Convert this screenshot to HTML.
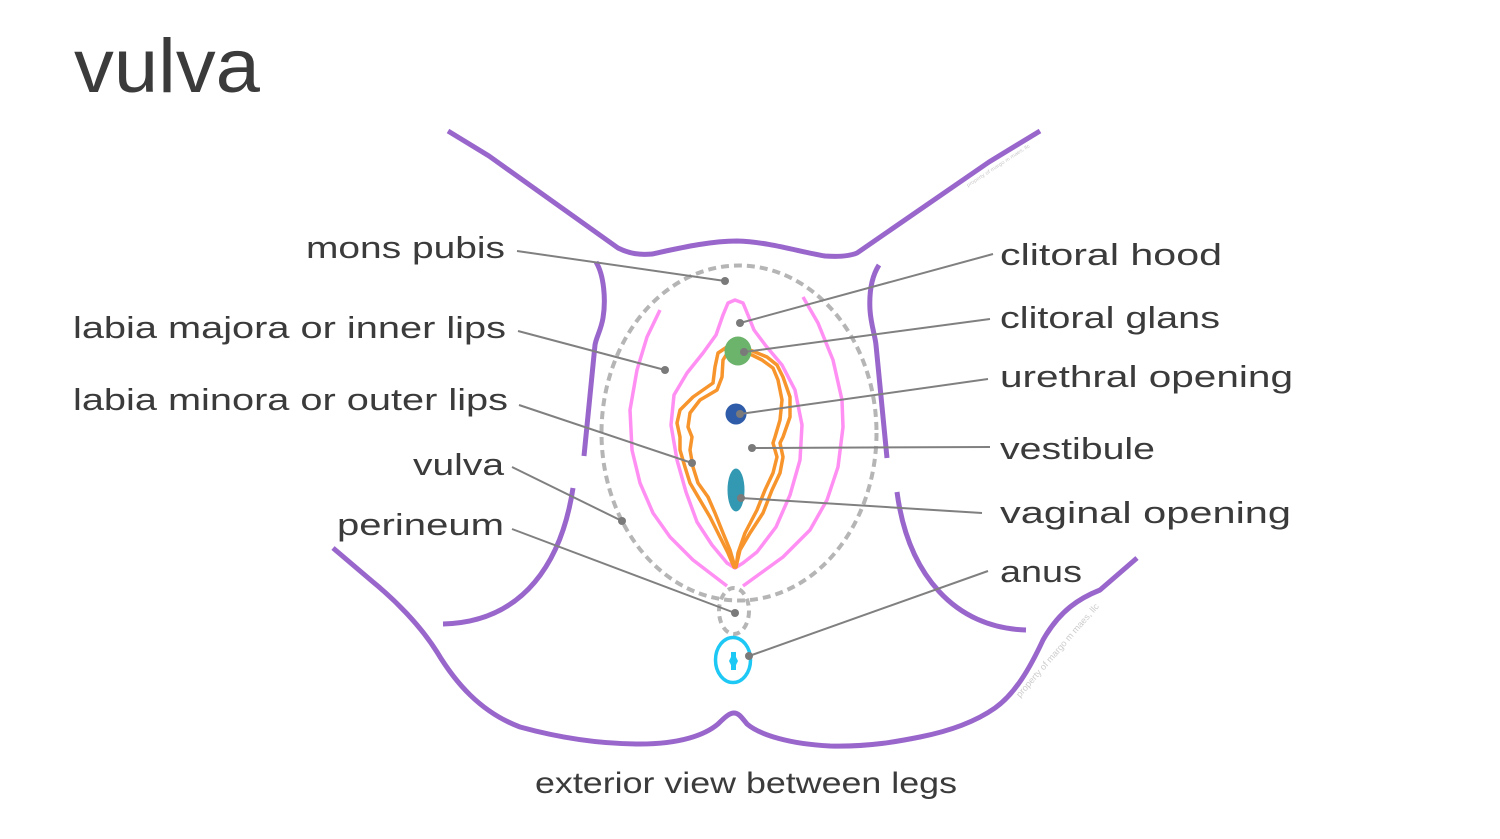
<!DOCTYPE html>
<html>
<head>
<meta charset="utf-8">
<style>
  html,body{margin:0;padding:0;background:#fff;}
  body{width:1500px;height:839px;overflow:hidden;}
  svg{display:block;}
  text{font-family:"Liberation Sans", sans-serif; fill:#3b3b3b;}
</style>
</head>
<body>
<svg width="1500" height="839" viewBox="0 0 1500 839" xmlns="http://www.w3.org/2000/svg">
  <rect width="1500" height="839" fill="#fff"/>

  <!-- Title -->
  <text x="74" y="92" font-size="76" textLength="186" lengthAdjust="spacingAndGlyphs">vulva</text>

  <!-- Purple body outlines -->
  <g fill="none" stroke="#9966cc" stroke-width="5" stroke-linecap="butt" stroke-linejoin="round">
    <path d="M448,131 L489,156 L618,248 C630,254 640,255 652,254 C680,248 710,241 737,241 C770,242 800,252 825,256 C840,257 850,256 857,253 L989,162 L1040,131"/>
    <path d="M596,262 C604,275 606,300 603,318 C601,330 596,338 595,345 L584,456"/>
    <path d="M879,265 C872,276 869,292 870,310 C871,325 875,335 876,345 L887,458"/>
    <path d="M573,488 C562,560 525,622 443,624"/>
    <path d="M897,492 C908,575 955,628 1026,630"/>
    <path d="M333,548 L373,582 C395,600 420,625 437,652 C455,682 480,712 520,727 C560,738 600,744 640,744 C680,744 705,735 718,724 C726,716 730,713 734,713 C739,713 742,718 747,724 C760,735 790,744 830,746 C870,747 900,741 920,737 C950,731 975,722 995,708 C1015,694 1030,668 1043,640 C1060,610 1080,598 1100,590 L1137,558"/>
  </g>

  <!-- Gray dashed vulva outline -->
  <ellipse cx="739" cy="433" rx="137.5" ry="167.5" fill="none" stroke="#b5b5b5" stroke-width="4" stroke-dasharray="8 5"/>
  <!-- perineum dashed -->
  <ellipse cx="734" cy="611" rx="15" ry="23" fill="none" stroke="#b5b5b5" stroke-width="4" stroke-dasharray="7 5"/>

  <!-- Pink outer labia -->
  <g fill="none" stroke="#ff8ff2" stroke-width="3.5" stroke-linejoin="round" stroke-linecap="butt">
    <polyline points="660,310 647,337 637,370 630,410 632,450 640,483 653,513 670,537 693,560 727,586"/>
    <polyline points="803,297 818,323 833,360 842,400 843,427 838,467 827,500 810,530 783,557 743,586"/>
    <!-- inner pink (hood + labia) -->
    <polygon points="735,300 743,303 748,315 754,330 766,346 782,365 795,390 802,425 800,460 790,495 776,527 757,552 743,563 735,568 727,563 712,545 697,522 686,492 677,460 671,425 674,395 687,373 703,353 716,335 723,315 728,303"/>
  </g>

  <!-- Orange labia minora -->
  <g fill="none" stroke="#f7952c" stroke-width="3.5" stroke-linejoin="round" stroke-linecap="round">
    <polyline points="727,347 718,353 715,367 713,383 693,397 680,410 677,423 680,437 680,450 685,467 690,483 700,500 710,517 720,537 728,553 734,567"/>
    <polyline points="728,352 723,360 722,377 717,390 700,400 690,413 688,427 692,437 690,450 693,467 698,483 708,497 715,513 723,533 730,550 735,567"/>
    <polyline points="750,350 767,357 777,365 783,377 790,397 790,417 783,437 780,443 783,457 780,473 772,490 763,513 750,533 740,550 736,567"/>
    <polyline points="752,355 762,360 773,368 778,380 782,400 780,420 775,437 773,443 777,457 773,473 765,490 757,510 745,533 738,553 736,567"/>
  </g>

  <!-- Clitoral glans, urethral, vaginal -->
  <ellipse cx="738" cy="351" rx="13.5" ry="14.5" fill="#6cb36c"/>
  <circle cx="736" cy="414" r="10.5" fill="#2f5ca8"/>
  <ellipse cx="736" cy="490" rx="8.5" ry="21.5" fill="#3399b3"/>

  <!-- Anus -->
  <ellipse cx="733" cy="660" rx="17.5" ry="22.5" fill="none" stroke="#1ec8f5" stroke-width="3.5"/>
  <path d="M731,652 L736,652 L736,657 L738,661 L736,665 L736,670 L731,670 L731,665 L729,661 L731,657 Z" fill="#1ec8f5"/>

  <!-- Leader lines -->
  <g stroke="#808080" stroke-width="2" fill="none">
    <line x1="517" y1="251" x2="725" y2="281"/>
    <line x1="518" y1="331" x2="665" y2="370"/>
    <line x1="519" y1="405" x2="692" y2="463"/>
    <line x1="512" y1="467" x2="622" y2="521"/>
    <line x1="512" y1="529" x2="735" y2="613"/>
    <line x1="993" y1="254" x2="740" y2="323"/>
    <line x1="990" y1="319" x2="744" y2="352"/>
    <line x1="988" y1="379" x2="740" y2="414"/>
    <line x1="990" y1="447" x2="752" y2="448"/>
    <line x1="982" y1="513" x2="741" y2="498"/>
    <line x1="988" y1="571" x2="749" y2="656"/>
  </g>
  <g fill="#7a7a7a">
    <circle cx="725" cy="281" r="4"/>
    <circle cx="665" cy="370" r="4"/>
    <circle cx="692" cy="463" r="4"/>
    <circle cx="622" cy="521" r="4"/>
    <circle cx="735" cy="613" r="4"/>
    <circle cx="740" cy="323" r="4"/>
    <circle cx="744" cy="352" r="4"/>
    <circle cx="740" cy="414" r="4"/>
    <circle cx="752" cy="448" r="4"/>
    <circle cx="741" cy="498" r="4"/>
    <circle cx="749" cy="656" r="4"/>
  </g>

  <!-- Left labels -->
  <g font-size="31">
    <text x="306" y="258" textLength="199" lengthAdjust="spacingAndGlyphs">mons pubis</text>
    <text x="73" y="338" textLength="433" lengthAdjust="spacingAndGlyphs">labia majora or inner lips</text>
    <text x="73" y="410" textLength="435" lengthAdjust="spacingAndGlyphs">labia minora or outer lips</text>
    <text x="413" y="475" textLength="91" lengthAdjust="spacingAndGlyphs">vulva</text>
    <text x="337" y="535" textLength="167" lengthAdjust="spacingAndGlyphs">perineum</text>
  </g>

  <!-- Right labels -->
  <g font-size="31">
    <text x="1000" y="265" textLength="222" lengthAdjust="spacingAndGlyphs">clitoral hood</text>
    <text x="1000" y="328" textLength="220" lengthAdjust="spacingAndGlyphs">clitoral glans</text>
    <text x="1000" y="387" textLength="293" lengthAdjust="spacingAndGlyphs">urethral opening</text>
    <text x="1000" y="459" textLength="155" lengthAdjust="spacingAndGlyphs">vestibule</text>
    <text x="1000" y="523" textLength="291" lengthAdjust="spacingAndGlyphs">vaginal opening</text>
    <text x="1000" y="582" textLength="82" lengthAdjust="spacingAndGlyphs">anus</text>
  </g>

  <!-- Caption -->
  <text x="535" y="793" font-size="30" textLength="422" lengthAdjust="spacingAndGlyphs">exterior view between legs</text>

  <!-- Watermarks -->
  <text x="0" y="0" font-size="5" style="fill:#c8c8c8" transform="translate(968,187) rotate(-33)" textLength="74" lengthAdjust="spacingAndGlyphs">property of margo m maes, llc</text>
  <text x="0" y="0" font-size="9" style="fill:#cccccc" transform="translate(1020,698) rotate(-49)" textLength="121" lengthAdjust="spacingAndGlyphs">property of margo m maes, llc</text>
</svg>
</body>
</html>
